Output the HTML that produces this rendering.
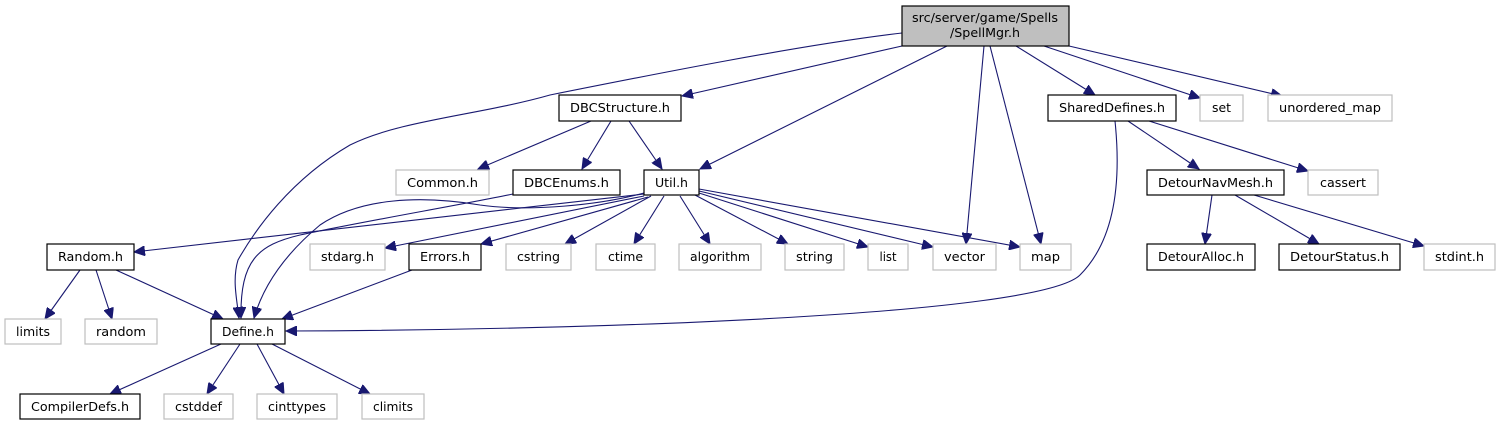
<!DOCTYPE html>
<html><head><meta charset="utf-8"><style>
html,body{margin:0;padding:0;background:#fff;}
svg{display:block;}
text{font-family:"DejaVu Sans Condensed","DejaVu Sans","Liberation Sans",sans-serif;font-size:12px;fill:#000;text-anchor:middle;}
.b{fill:#fff;stroke:#000;stroke-width:1.2;}
.g{fill:#fff;stroke:#bfbfbf;stroke-width:1.2;}
.e{fill:none;stroke:#191970;stroke-width:1.1;marker-end:url(#a);}
</style></head><body>
<svg width="1499" height="425" viewBox="0 0 1499 425" xmlns="http://www.w3.org/2000/svg">
<defs><marker id="a" markerUnits="userSpaceOnUse" markerWidth="12" markerHeight="10" refX="11" refY="5" orient="auto"><path d="M0,0 L11,5 L0,10 z" fill="#191970" stroke="#191970"/></marker></defs>

<path class="e" d="M902,33 C800,45 650,75 550,95 C480,115 400,120 350,145 C290,180 255,230 238,260 C232,280 237,300 239,318"/>
<path class="e" d="M902,46 L682,96"/>
<path class="e" d="M947,46 L700,169"/>
<path class="e" d="M984,46 L966,244"/>
<path class="e" d="M990,46 L1041,244"/>
<path class="e" d="M1016,46 L1095,95"/>
<path class="e" d="M1044,46 L1200,98"/>
<path class="e" d="M1069,46 L1282,96"/>
<path class="e" d="M591,121 L478,169"/>
<path class="e" d="M611,121 L582,169"/>
<path class="e" d="M629,121 L662,169"/>
<path class="e" d="M513,194 C460,205 360,222 300,235 C258,245 240,260 241,318"/>
<path class="e" d="M644,193 C600,205 530,212 480,205 C420,195 360,198 320,225 C290,250 265,280 254,318"/>
<path class="e" d="M644,194 L134,252"/>
<path class="e" d="M644,196 L385,248"/>
<path class="e" d="M648,197 L481,244"/>
<path class="e" d="M651,196 L565,244"/>
<path class="e" d="M664,196 L634,244"/>
<path class="e" d="M680,196 L710,244"/>
<path class="e" d="M695,195 L788,244"/>
<path class="e" d="M699,193 L868,247"/>
<path class="e" d="M699,191 L933,247"/>
<path class="e" d="M699,189 L1020,247"/>
<path class="e" d="M80,270 L45,319"/>
<path class="e" d="M96,270 L112,319"/>
<path class="e" d="M116,270 L223,319"/>
<path class="e" d="M412,270 L282,319"/>
<path class="e" d="M221,344 L110,394"/>
<path class="e" d="M240,344 L207,394"/>
<path class="e" d="M257,344 L284,394"/>
<path class="e" d="M272,344 L370,394"/>
<path class="e" d="M1115,121 C1118,150 1125,230 1080,275 C1040,315 600,330 286,331"/>
<path class="e" d="M1128,121 L1199,169"/>
<path class="e" d="M1149,121 L1308,171"/>
<path class="e" d="M1212,195 L1205,244"/>
<path class="e" d="M1235,195 L1319,244"/>
<path class="e" d="M1254,195 L1424,246"/>

<rect x="902" y="6" width="167" height="40" fill="#bfbfbf" stroke="#000" stroke-width="1.2"/>
<text x="985" y="22" textLength="146" lengthAdjust="spacingAndGlyphs">src/server/game/Spells</text>
<text x="985" y="37" textLength="70" lengthAdjust="spacingAndGlyphs">/SpellMgr.h</text>

<rect class="b" x="559" y="95" width="122" height="26"/><text x="620" y="112" textLength="100" lengthAdjust="spacingAndGlyphs">DBCStructure.h</text>
<rect class="b" x="1048" y="95" width="128" height="26"/><text x="1112" y="112" textLength="106" lengthAdjust="spacingAndGlyphs">SharedDefines.h</text>
<rect class="g" x="1200" y="95" width="43" height="26"/><text x="1221.5" y="112" textLength="19" lengthAdjust="spacingAndGlyphs">set</text>
<rect class="g" x="1268" y="95" width="124" height="26"/><text x="1330" y="112" textLength="102" lengthAdjust="spacingAndGlyphs">unordered_map</text>

<rect class="g" x="396" y="170" width="93" height="25"/><text x="442.5" y="187" textLength="71" lengthAdjust="spacingAndGlyphs">Common.h</text>
<rect class="b" x="513" y="170" width="107" height="25"/><text x="566.5" y="187" textLength="85" lengthAdjust="spacingAndGlyphs">DBCEnums.h</text>
<rect class="b" x="644" y="170" width="55" height="25"/><text x="671.5" y="187" textLength="33" lengthAdjust="spacingAndGlyphs">Util.h</text>
<rect class="b" x="1147" y="170" width="137" height="25"/><text x="1215.5" y="187" textLength="115" lengthAdjust="spacingAndGlyphs">DetourNavMesh.h</text>
<rect class="g" x="1308" y="170" width="70" height="25"/><text x="1343" y="187" textLength="46" lengthAdjust="spacingAndGlyphs">cassert</text>

<rect class="b" x="47" y="244" width="87" height="26"/><text x="90.5" y="261" textLength="65" lengthAdjust="spacingAndGlyphs">Random.h</text>
<rect class="g" x="310" y="244" width="75" height="26"/><text x="347.5" y="261" textLength="53" lengthAdjust="spacingAndGlyphs">stdarg.h</text>
<rect class="b" x="409" y="244" width="72" height="26"/><text x="445" y="261" textLength="50" lengthAdjust="spacingAndGlyphs">Errors.h</text>
<rect class="g" x="506" y="244" width="65" height="26"/><text x="538.5" y="261" textLength="43" lengthAdjust="spacingAndGlyphs">cstring</text>
<rect class="g" x="596" y="244" width="59" height="26"/><text x="625.5" y="261" textLength="35" lengthAdjust="spacingAndGlyphs">ctime</text>
<rect class="g" x="679" y="244" width="82" height="26"/><text x="720" y="261" textLength="60" lengthAdjust="spacingAndGlyphs">algorithm</text>
<rect class="g" x="785" y="244" width="59" height="26"/><text x="814.5" y="261" textLength="37" lengthAdjust="spacingAndGlyphs">string</text>
<rect class="g" x="868" y="244" width="40" height="26"/><text x="888" y="261" textLength="17" lengthAdjust="spacingAndGlyphs">list</text>
<rect class="g" x="933" y="244" width="63" height="26"/><text x="964.5" y="261" textLength="41" lengthAdjust="spacingAndGlyphs">vector</text>
<rect class="g" x="1020" y="244" width="51" height="26"/><text x="1045.5" y="261" textLength="29" lengthAdjust="spacingAndGlyphs">map</text>
<rect class="b" x="1147" y="244" width="108" height="26"/><text x="1201" y="261" textLength="86" lengthAdjust="spacingAndGlyphs">DetourAlloc.h</text>
<rect class="b" x="1279" y="244" width="121" height="26"/><text x="1339.5" y="261" textLength="99" lengthAdjust="spacingAndGlyphs">DetourStatus.h</text>
<rect class="g" x="1424" y="244" width="71" height="26"/><text x="1459.5" y="261" textLength="49" lengthAdjust="spacingAndGlyphs">stdint.h</text>

<rect class="g" x="5" y="319" width="56" height="25"/><text x="33" y="336" textLength="34" lengthAdjust="spacingAndGlyphs">limits</text>
<rect class="g" x="85" y="319" width="72" height="25"/><text x="121" y="336" textLength="50" lengthAdjust="spacingAndGlyphs">random</text>
<rect class="b" x="211" y="319" width="74" height="25"/><text x="248" y="336" textLength="52" lengthAdjust="spacingAndGlyphs">Define.h</text>

<rect class="b" x="20" y="394" width="120" height="25"/><text x="80" y="411" textLength="98" lengthAdjust="spacingAndGlyphs">CompilerDefs.h</text>
<rect class="g" x="164" y="394" width="69" height="25"/><text x="198.5" y="411" textLength="47" lengthAdjust="spacingAndGlyphs">cstddef</text>
<rect class="g" x="257" y="394" width="80" height="25"/><text x="297" y="411" textLength="58" lengthAdjust="spacingAndGlyphs">cinttypes</text>
<rect class="g" x="362" y="394" width="62" height="25"/><text x="393" y="411" textLength="40" lengthAdjust="spacingAndGlyphs">climits</text>
</svg>
</body></html>
